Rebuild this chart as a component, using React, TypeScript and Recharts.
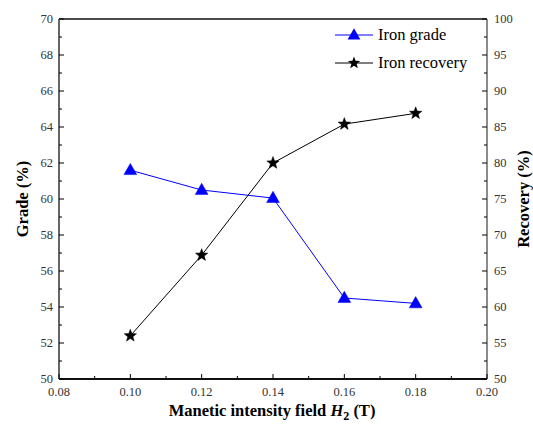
import React from "react";
import {
  ComposedChart,
  Line,
  XAxis,
  YAxis,
  ReferenceLine,
  Customized,
} from "recharts";

const fieldValues = [0.1, 0.12, 0.14, 0.16, 0.18];
const ironGrade = [61.6, 60.5, 60.05, 54.5, 54.2];
const ironRecovery = [56.0, 67.2, 80.0, 85.4, 86.9];

const xTicks = [0.08, 0.09, 0.1, 0.11, 0.12, 0.13, 0.14, 0.15, 0.16, 0.17, 0.18, 0.19, 0.2];
const gradeTicks = [50, 51, 52, 53, 54, 55, 56, 57, 58, 59, 60, 61, 62, 63, 64, 65, 66, 67, 68, 69, 70];
const recoveryTicks = [50, 52.5, 55, 57.5, 60, 62.5, 65, 67.5, 70, 72.5, 75, 77.5, 80, 82.5, 85, 87.5, 90, 92.5, 95, 97.5, 100];

const data = fieldValues.map((f, i) => ({
  field: f,
  grade: ironGrade[i],
  recovery: ironRecovery[i],
}));

const FONT = '"Liberation Serif", "Times New Roman", serif';
const W = 533;
const H = 427;
const M_LEFT = 6;
const M_RIGHT = 7;
const M_BOTTOM = 8;

const serif = (size: number, bold = false): React.CSSProperties => ({
  fontFamily: FONT,
  fontSize: size,
  fontWeight: bold ? "bold" : "normal",
});

const LeftTick = (props: any) => {
  const { x, y, payload } = props;
  const v = payload.value;
  const major = Math.round(v) % 2 === 0;
  const ax = x + M_LEFT;
  return (
    <g>
      <line x1={ax} x2={ax + (major ? 5 : 3)} y1={y} y2={y} stroke="#000" strokeWidth={1} />
      {major && (
        <text x={x} y={y} dy="0.35em" textAnchor="end" style={serif(12.5)} fill="#333">
          {v}
        </text>
      )}
    </g>
  );
};

const RightTick = (props: any) => {
  const { x, y, payload } = props;
  const v = payload.value;
  const major = Math.round(v * 10) % 50 === 0;
  const ax = x - M_RIGHT;
  return (
    <g>
      <line x1={ax} x2={ax - (major ? 5 : 3)} y1={y} y2={y} stroke="#000" strokeWidth={1} />
      {major && (
        <text x={x} y={y} dy="0.35em" textAnchor="start" style={serif(12.5)} fill="#333">
          {v}
        </text>
      )}
    </g>
  );
};

const BottomTick = (props: any) => {
  const { x, y, payload } = props;
  const v = payload.value;
  const major = Math.round(v * 100) % 2 === 0;
  const ay = y - M_BOTTOM;
  return (
    <g>
      <line x1={x} x2={x} y1={ay} y2={ay - (major ? 5 : 3)} stroke="#000" strokeWidth={1} />
      {major && (
        <text x={x} y={y} dy="0.75em" textAnchor="middle" style={serif(12.5)} fill="#333">
          {v.toFixed(2)}
        </text>
      )}
    </g>
  );
};

const trianglePath = (cx: number, cy: number, s: number) =>
  `M${cx},${cy - s * 0.62} L${cx + s * 0.58},${cy + s * 0.4} L${cx - s * 0.58},${cy + s * 0.4} Z`;

const starPath = (cx: number, cy: number, r: number) => {
  const pts: string[] = [];
  for (let i = 0; i < 10; i++) {
    const rr = i % 2 === 0 ? r : r * 0.42;
    const a = -Math.PI / 2 + (i * Math.PI) / 5;
    pts.push(`${(cx + rr * Math.cos(a)).toFixed(2)},${(cy + rr * Math.sin(a)).toFixed(2)}`);
  }
  return "M" + pts.join(" L") + " Z";
};

const TriangleDot = (props: any) => {
  const { cx, cy, index } = props;
  if (cx == null || cy == null) return <g key={index} />;
  return <path key={index} d={trianglePath(cx, cy, 11)} fill="#0000ff" stroke="#0000ff" strokeWidth={0.5} />;
};

const StarDot = (props: any) => {
  const { cx, cy, index } = props;
  if (cx == null || cy == null) return <g key={index} />;
  return <path key={index} d={starPath(cx, cy, 6.5)} fill="#000" stroke="#000" strokeWidth={0.5} />;
};

const Titles = () => (
  <g>
    <text
      x={22}
      y={199}
      transform="rotate(-90 22 199)"
      textAnchor="middle"
      dominantBaseline="central"
      style={serif(16.5, true)}
      fill="#000"
    >
      Grade (%)
    </text>
    <text
      x={523}
      y={199}
      transform="rotate(-90 523 199)"
      textAnchor="middle"
      dominantBaseline="central"
      style={serif(16.5, true)}
      fill="#000"
    >
      Recovery (%)
    </text>
    <text x={272} y={416} textAnchor="middle" style={serif(16.5, true)} fill="#000">
      Manetic intensity field <tspan fontStyle="italic">H</tspan>
      <tspan fontSize={12} dy={4}>2</tspan>
      <tspan dy={-4}> (T)</tspan>
    </text>
    <g>
      <line x1={335} x2={373} y1={35} y2={35} stroke="#0000ff" strokeWidth={1} />
      <path d={trianglePath(354, 35, 11)} fill="#0000ff" />
      <text x={378} y={35} dy="0.33em" style={serif(16.5)} fill="#000">
        Iron grade
      </text>
      <line x1={335} x2={373} y1={63} y2={63} stroke="#000" strokeWidth={1} />
      <path d={starPath(354, 63, 6.5)} fill="#000" />
      <text x={378} y={63} dy="0.33em" style={serif(16.5)} fill="#000">
        Iron recovery
      </text>
    </g>
  </g>
);

export default function App() {
  return (
    <div style={{ position: "absolute", left: 0, top: 0, width: W, height: H, background: "#fff" }}>
      <ComposedChart
        width={W}
        height={H}
        data={data}
        margin={{ top: 19, right: 0, bottom: 0, left: 0 }}
      >
        <XAxis
          dataKey="field"
          type="number"
          domain={[0.08, 0.2]}
          ticks={xTicks}
          interval={0}
          height={48}
          tickSize={0}
          tickMargin={M_BOTTOM}
          tick={<BottomTick />}
          axisLine={{ stroke: "#111", strokeWidth: 2 }}
          allowDataOverflow
        />
        <YAxis
          yAxisId="left"
          type="number"
          domain={[50, 70]}
          ticks={gradeTicks}
          interval={0}
          width={59}
          tickSize={0}
          tickMargin={M_LEFT}
          tick={<LeftTick />}
          axisLine={{ stroke: "#666", strokeWidth: 2 }}
        />
        <YAxis
          yAxisId="right"
          orientation="right"
          type="number"
          domain={[50, 100]}
          ticks={recoveryTicks}
          interval={0}
          width={46}
          tickSize={0}
          tickMargin={M_RIGHT}
          tick={<RightTick />}
          axisLine={{ stroke: "#666", strokeWidth: 1.5 }}
        />
        <ReferenceLine yAxisId="left" y={70} stroke="#111" strokeWidth={1.5} />
        <Line
          yAxisId="left"
          dataKey="grade"
          stroke="#0000ff"
          strokeWidth={1}
          dot={<TriangleDot />}
          isAnimationActive={false}
        />
        <Line
          yAxisId="right"
          dataKey="recovery"
          stroke="#000"
          strokeWidth={1}
          dot={<StarDot />}
          isAnimationActive={false}
        />
        <Customized component={<Titles />} />
      </ComposedChart>
    </div>
  );
}
